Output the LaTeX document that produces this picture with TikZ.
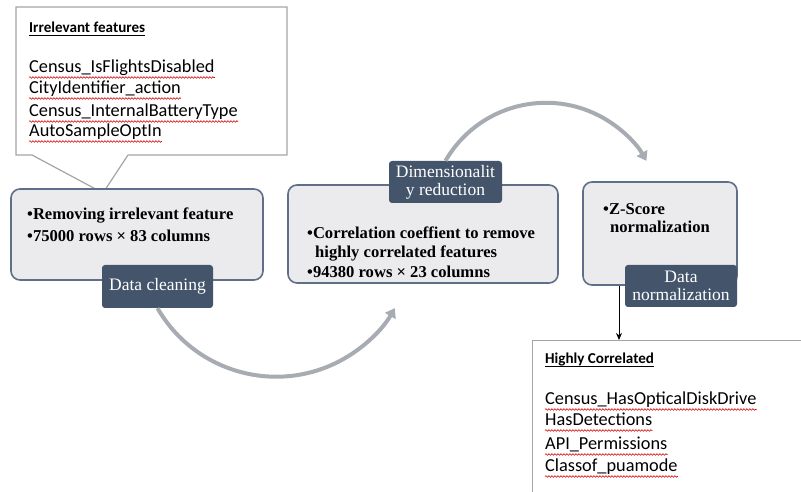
\documentclass[tikz,border=0pt]{standalone}
\usepackage{fontspec}
\setmainfont{Liberation Serif}
\newfontfamily\timesf{Liberation Serif}
\newfontfamily\calib{Carlito}
\usetikzlibrary{arrows.meta,decorations.pathmorphing}
\definecolor{boxfill}{HTML}{EBEBEE}
\definecolor{boxedge}{HTML}{5F6F88}
\definecolor{labfill}{HTML}{44546A}
\definecolor{arcgray}{HTML}{A7ABB2}
\definecolor{calloutedge}{HTML}{A5A5A5}
\begin{document}
\begin{tikzpicture}[x=1pt,y=1pt,
  stagebox/.style={draw=boxedge, line width=1.6pt, fill=boxfill, rounded corners=9pt, inner sep=0pt},
  stagelabel/.style={fill=labfill, rounded corners=3pt, text=white, align=center, inner sep=0pt,
     font=\timesf\fontsize{17.5}{19}\selectfont},
  bodytext/.style={anchor=base west, inner sep=0pt, font=\timesf\bfseries\fontsize{16.6}{19}\selectfont},
  listtext/.style={anchor=base west, inner sep=0pt, font=\calib\fontsize{18.3}{21}\selectfont},
  headtext/.style={anchor=base west, inner sep=0pt, font=\calib\bfseries\fontsize{15.1}{18}\selectfont},
  flowarc/.style={draw=arcgray, line width=4pt, -{Triangle[width=12pt,length=9pt]}},
  wavy/.style={draw=red!85!black, line width=0.6pt, decorate, decoration={snake, amplitude=0.8pt, segment length=3pt}},
  callout/.style={draw=calloutedge, line width=1.2pt, fill=white}
]
\clip (0,0) rectangle (801,492);
\fill[white] (0,0) rectangle (801,492);

% callout with irrelevant features
\draw[callout] (16,485) -- (287,485) -- (287,337) -- (128,337) -- (103,299) -- (32,337) -- (16,337) -- cycle;
\node[headtext] (ih) at (29,459) {Irrelevant features};
\node[listtext] (i1) at (29,419) {Census\_IsFlightsDisabled};
\node[listtext] (i2) at (29,398) {CityIdentifier\_action};
\node[listtext] (i3) at (29,375) {Census\_InternalBatteryType};
\node[listtext] (i4) at (29,355) {AutoSampleOptIn};

% stage boxes
\node[stagebox, minimum width=252pt, minimum height=91pt] (b1) at (137,257.5) {};
\node[stagebox, minimum width=270pt, minimum height=98pt] (b2) at (423,258) {};
\node[stagebox, minimum width=154pt, minimum height=103pt] (b3) at (660,258.5) {};

\node[bodytext] (t11) at (27,272) {•Removing irrelevant feature};
\node[bodytext] (t12) at (27,250) {•75000 rows × 83 columns};
\node[bodytext] (t21) at (307,253) {•Correlation coeffient to remove};
\node[bodytext] (t22) at (315,234) {highly correlated features};
\node[bodytext] (t23) at (307,214) {•94380 rows × 23 columns};
\node[bodytext] (t31) at (603,277) {•Z-Score};
\node[bodytext] (t32) at (610,259) {normalization};

% labels
\node[stagelabel, minimum width=111pt, minimum height=43pt] (dc) at (157.5,205.5) {Data cleaning};
\node[stagelabel, minimum width=113pt, minimum height=42pt] (dr) at (445.5,310) {Dimensionalit\\[-1pt]y reduction};
\node[stagelabel, minimum width=112pt, minimum height=42pt] (dn) at (681,206) {Data\\[-1pt]normalization};

% highly correlated box
\node[draw=calloutedge, line width=1.2pt, fill=white, anchor=north west, minimum width=300pt, minimum height=200pt, inner sep=0pt] (hc) at (532,152) {};
\node[headtext] (hh) at (545,128) {Highly Correlated};
\node[listtext] (h1) at (545,87) {Census\_HasOpticalDiskDrive};
\node[listtext] (h2) at (545,66) {HasDetections};
\node[listtext] (h3) at (545,42) {API\_Permissions};
\node[listtext] (h4) at (545,20) {Classof\_puamode};

% underlines
\foreach \n in {ih,hh}
  \draw[line width=0.8pt] ([yshift=-2.5pt]\n.base west) -- ([yshift=-2.5pt]\n.base east);
\foreach \n in {i1,i2,i3,i4,h1,h2,h3,h4}
  \draw[wavy] ([yshift=-4.5pt]\n.base west) -- ([yshift=-4.5pt]\n.base east);

% flow arcs
\draw[flowarc] (dc.south) arc[start angle=210, end angle=330, radius=137];
\draw[flowarc] (dr.north) arc[start angle=150, end angle=30, radius=116];

% arrow to highly correlated
\draw[line width=0.9pt, -{Stealth[length=7pt,width=6pt]}] ([xshift=-41pt]b3.south) -- ([xshift=-41pt]b3.south |- hc.north);
\end{tikzpicture}
\end{document}
